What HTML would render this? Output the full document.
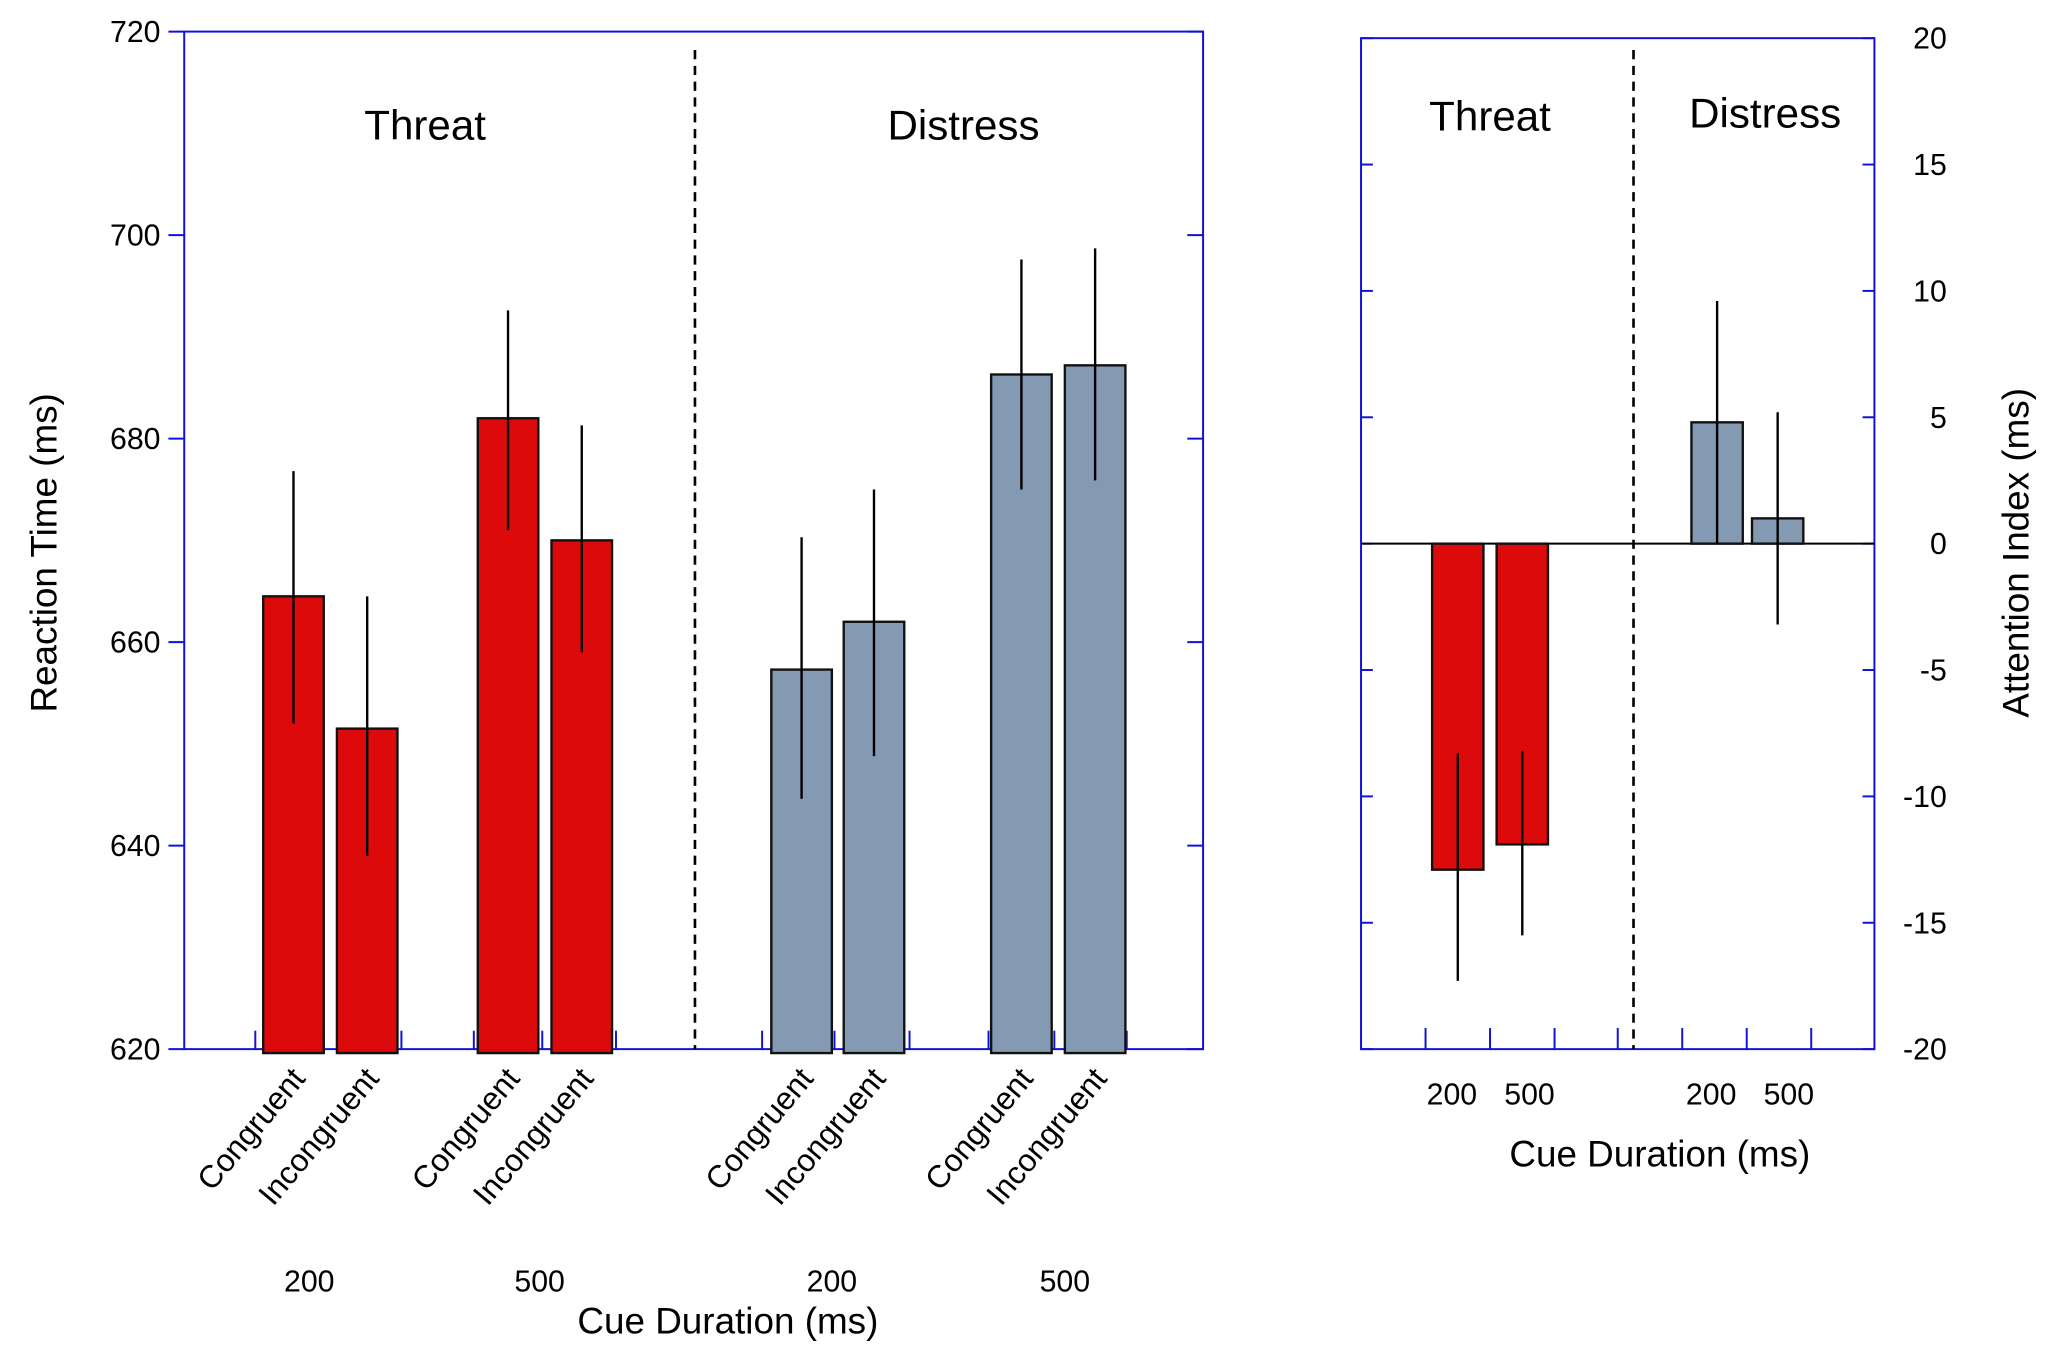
<!DOCTYPE html>
<html><head><meta charset="utf-8"><style>
html,body{margin:0;padding:0;background:#fff;}
svg{display:block;font-family:"Liberation Sans","DejaVu Sans",sans-serif;}
</style></head><body>
<svg id="chart" width="2056" height="1369" viewBox="0 0 1560 1040" xmlns="http://www.w3.org/2000/svg"></svg>
<script>
// Left panel data
const leftCats = ["Congruent","Incongruent","Congruent","Incongruent","Congruent","Incongruent","Congruent","Incongruent"];
const leftGroups = ["Threat","Threat","Threat","Threat","Distress","Distress","Distress","Distress"];
const leftValues = [664.5, 651.5, 682, 670, 657.3, 662, 686.3, 687.2];
const leftErrHi = [676.8, 664.5, 692.6, 681.3, 670.3, 675, 697.6, 698.7];
const leftErrLo = [652, 639, 671, 659, 644.6, 648.8, 675, 675.9];
const leftTicks = [620, 640, 660, 680, 700, 720];
const durLabels = ["200","500","200","500"];
// Right panel data
const rightCats = ["200","500","200","500"];
const rightValues = [-12.9, -11.9, 4.8, 1.0];
const rightErrHi = [-8.3, -8.2, 9.6, 5.2];
const rightErrLo = [-17.3, -15.5, 0, -3.2];
const rightTicks = [-20, -15, -10, -5, 0, 5, 10, 15, 20];

const svg = document.getElementById('chart');
const NS = "http://www.w3.org/2000/svg";
function mk(tag, attrs, parent){const e=document.createElementNS(NS,tag);for(const k in attrs)e.setAttribute(k,attrs[k]);(parent||svg).appendChild(e);return e;}
const RED="#dc0a0a", GREY="#8499b2", BLUE="#1111dd";

// ---------- Left panel ----------
const L={x0:139,x1:913,y0:24,y1:797};
const ly=v=>L.y1-(v-620)/(720-620)*(L.y1-L.y0);
const barX=[199,255,362,418,585,640,752,808], bw=46;
let e;
e=mk('rect',{x:L.x0,y:L.y0,width:L.x1-L.x0,height:L.y1-L.y0,fill:'none',stroke:BLUE,'stroke-width':1.5});

leftTicks.forEach(t=>{
  const y=ly(t);
  e=mk('line',{x1:L.x0-12,x2:L.x0,y1:y,y2:y,stroke:BLUE,'stroke-width':1.5});
  
  e=mk('line',{x1:L.x1-12,x2:L.x1,y1:y,y2:y,stroke:BLUE,'stroke-width':1.5});
  
  e=mk('text',{x:L.x0-18,y:y+8,'text-anchor':'end','font-size':23});e.textContent=t;
  
});
[193,245,304,359,411,467,578,633,690,750,800,855].forEach(x=>{
  e=mk('line',{x1:x,x2:x,y1:L.y1-14,y2:L.y1,stroke:BLUE,'stroke-width':1.5});
  
});
e=mk('line',{x1:527,x2:527,y1:38,y2:L.y1,stroke:'#000','stroke-width':2,'stroke-dasharray':'7,5'});

leftValues.forEach((v,i)=>{
  const x=barX[i], y=ly(v);
  e=mk('rect',{x:x,y:y,width:bw,height:ly(620)-y+3,fill:leftGroups[i]==="Threat"?RED:GREY,stroke:'#111','stroke-width':1.8});
  
  e=mk('line',{x1:x+bw/2,x2:x+bw/2,y1:ly(leftErrHi[i]),y2:ly(leftErrLo[i]),stroke:'#000','stroke-width':1.8});
  
  const cx=x+bw/2+10, cy=820;
  e=mk('text',{x:cx,y:cy,'text-anchor':'end','font-size':24,transform:`rotate(-50 ${cx} ${cy})`});e.textContent=leftCats[i];
  
});
[234,409,631,808].forEach((x,i)=>{
  e=mk('text',{x:x,y:981,'text-anchor':'middle','font-size':23});e.textContent=durLabels[i];
  
});
e=mk('text',{x:552,y:1013,'text-anchor':'middle','font-size':28});e.textContent='Cue Duration (ms)';

e=mk('text',{x:42,y:420,'text-anchor':'middle','font-size':28,transform:'rotate(-90 42 420)'});e.textContent='Reaction Time (ms)';

e=mk('text',{x:322,y:106,'text-anchor':'middle','font-size':32});e.textContent='Threat';

e=mk('text',{x:731,y:106,'text-anchor':'middle','font-size':32});e.textContent='Distress';


// ---------- Right panel ----------
const R={x0:1033,x1:1423,y0:29,y1:797};
const ry=v=>R.y1-(v+20)/40*(R.y1-R.y0);
const rbx=[1087,1136,1284,1330], rbw=39;
e=mk('rect',{x:R.x0,y:R.y0,width:R.x1-R.x0,height:R.y1-R.y0,fill:'none',stroke:BLUE,'stroke-width':1.5});

rightTicks.forEach(t=>{
  const y=ry(t);
  e=mk('line',{x1:R.x0,x2:R.x0+9,y1:y,y2:y,stroke:BLUE,'stroke-width':1.5});
  
  e=mk('line',{x1:R.x1-9,x2:R.x1,y1:y,y2:y,stroke:BLUE,'stroke-width':1.5});
  
  e=mk('text',{x:1478,y:y+8,'text-anchor':'end','font-size':23});e.textContent=t;
  
});
[1082,1131,1180,1228,1277,1326,1375].forEach(x=>{
  e=mk('line',{x1:x,x2:x,y1:R.y1-16,y2:R.y1,stroke:BLUE,'stroke-width':1.5});
  
});
e=mk('line',{x1:R.x0,x2:R.x1,y1:ry(0),y2:ry(0),stroke:'#000','stroke-width':1.5});

e=mk('line',{x1:1240,x2:1240,y1:38,y2:R.y1,stroke:'#000','stroke-width':2,'stroke-dasharray':'7,5'});

rightValues.forEach((v,i)=>{
  const x=rbx[i], y=Math.min(ry(v),ry(0)), h=Math.abs(ry(v)-ry(0));
  e=mk('rect',{x:x,y:y,width:rbw,height:h,fill:i<2?RED:GREY,stroke:'#111','stroke-width':1.8});
  
  e=mk('line',{x1:x+rbw/2,x2:x+rbw/2,y1:ry(rightErrHi[i]),y2:ry(rightErrLo[i]),stroke:'#000','stroke-width':1.8});
  
});
[1102,1161,1299,1358].forEach((x,i)=>{
  e=mk('text',{x:x,y:839,'text-anchor':'middle','font-size':23});e.textContent=rightCats[i];
  
});
e=mk('text',{x:1260,y:886,'text-anchor':'middle','font-size':28});e.textContent='Cue Duration (ms)';

e=mk('text',{x:1540,y:420,'text-anchor':'middle','font-size':28,transform:'rotate(-90 1540 420)'});e.textContent='Attention Index (ms)';

e=mk('text',{x:1131,y:99,'text-anchor':'middle','font-size':32});e.textContent='Threat';

e=mk('text',{x:1340,y:97,'text-anchor':'middle','font-size':32});e.textContent='Distress';

</script>
</body></html>
